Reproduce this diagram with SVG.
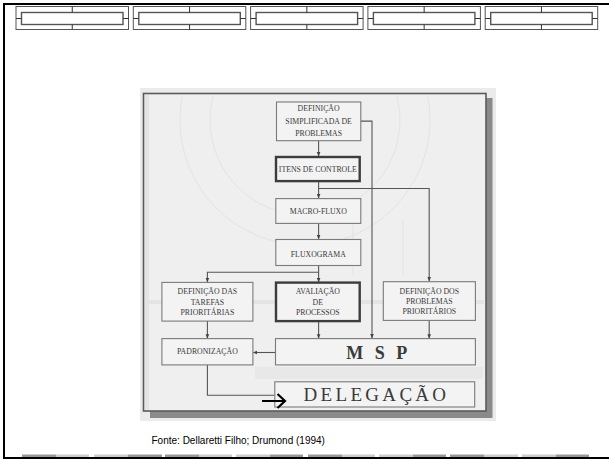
<svg xmlns="http://www.w3.org/2000/svg" width="609" height="459" viewBox="0 0 609 459">
<style>
.slide{stroke:#000;stroke-width:2;fill:none}
.tb-o{fill:#fff;stroke:#555;stroke-width:1}
.tb-i{fill:#fff;stroke:#555;stroke-width:1.4}
.tb-t{stroke:#333;stroke-width:1}
.box{fill:#f3f3f3;stroke:#7a7a7a;stroke-width:1.1}
.thick{fill:#f3f3f3;stroke:#3c3c3c;stroke-width:2.4}
.t{font-family:"Liberation Serif",serif;font-size:7.8px;fill:#3a3a3a;text-anchor:middle}
.big{font-family:"Liberation Serif",serif;fill:#3a3a3a;text-anchor:middle}
.c{fill:none;stroke:#555;stroke-width:1.1}
.cap{font-family:"Liberation Sans",Arial,sans-serif;font-size:10px;fill:#000}
</style>
<defs>
<marker id="ah" viewBox="0 0 10 10" refX="9" refY="5" markerWidth="4.5" markerHeight="4.5" orient="auto" markerUnits="userSpaceOnUse">
<path d="M0,1 L10,5 L0,9 z" fill="#444"/>
</marker>
<clipPath id="fr"><rect x="144.5" y="94.5" width="340.5" height="315.5"/></clipPath>
<g id="tab">
<rect class="tb-o" x="0" y="6.5" width="112.5" height="23"/>
<rect class="tb-i" x="5.5" y="12.5" width="101.5" height="12"/>
<path class="tb-t" d="M0,18.5 H5.5 M107,18.5 H112.5 M56.25,6.5 V12.5 M56.25,24.5 V29.5"/>
</g>
</defs>
<rect x="0" y="0" width="609" height="459" fill="#fff"/>
<path class="slide" d="M609,4 H4 V458 H609"/>
<g id="tabs">
<use href="#tab" x="16"/>
<use href="#tab" x="133.3"/>
<use href="#tab" x="250.6"/>
<use href="#tab" x="367.9"/>
<use href="#tab" x="485.2"/>
</g>
<g id="bars">
<rect x="22" y="454.5" width="34" height="2.5" fill="#999"/><rect x="56" y="454.5" width="33" height="2.5" fill="#ccc"/>
<rect x="94" y="454.5" width="34" height="2.5" fill="#ccc"/><rect x="128" y="454.5" width="34" height="2.5" fill="#999"/>
<rect x="165" y="454.5" width="34" height="2.5" fill="#999"/><rect x="199" y="454.5" width="33" height="2.5" fill="#ccc"/>
<rect x="236" y="454.5" width="34" height="2.5" fill="#ccc"/><rect x="270" y="454.5" width="33" height="2.5" fill="#999"/>
<rect x="308" y="454.5" width="34" height="2.5" fill="#999"/><rect x="342" y="454.5" width="33" height="2.5" fill="#ccc"/>
<rect x="379" y="454.5" width="34" height="2.5" fill="#ccc"/><rect x="413" y="454.5" width="33" height="2.5" fill="#999"/>
<rect x="450" y="454.5" width="34" height="2.5" fill="#999"/><rect x="484" y="454.5" width="34" height="2.5" fill="#ccc"/>
<rect x="522" y="454.5" width="34" height="2.5" fill="#ccc"/><rect x="556" y="454.5" width="33" height="2.5" fill="#999"/>
</g>
<g id="scan">
<rect x="140" y="88" width="356" height="333" fill="#ebebeb"/>
<rect x="150" y="98" width="342.5" height="320" fill="#8a8a8a"/>
<rect x="143.5" y="93.5" width="342.5" height="317.5" fill="#efefef" stroke="#5a5a5a" stroke-width="1.6"/>
<rect x="145" y="95" width="4" height="315" fill="#e4e4e4"/>
<g fill="none" stroke="#e0e0e0" stroke-width="0.8" clip-path="url(#fr)">
<circle cx="305" cy="120" r="125"/>
<circle cx="305" cy="120" r="95"/>
<path d="M353,220 V275 M403,220 V275"/>
</g>
<rect x="146" y="300" width="338" height="4" fill="#e4e4e4"/>
<rect x="255" y="367" width="228" height="12" fill="#e8e8e8"/>
</g>
<g id="connectors">
<path class="c" d="M318.6,140.7 V156" marker-end="url(#ah)"/>
<path class="c" d="M318.6,182 V198" marker-end="url(#ah)"/>
<path class="c" d="M318.6,188.5 H429.2 V281" marker-end="url(#ah)"/>
<path class="c" d="M360.8,121.1 H372 V338" marker-end="url(#ah)"/>
<path class="c" d="M318.6,223.4 V239" marker-end="url(#ah)"/>
<path class="c" d="M318.6,265.5 V282" marker-end="url(#ah)"/>
<path class="c" d="M318.6,272.2 H207.4 V282" marker-end="url(#ah)"/>
<path class="c" d="M207.4,321.1 V338.2" marker-end="url(#ah)"/>
<path class="c" d="M318.6,322 V338.2" marker-end="url(#ah)"/>
<path class="c" d="M429.2,320.4 V338.2" marker-end="url(#ah)"/>
<path class="c" d="M275.5,352.5 H253.3" marker-end="url(#ah)"/>
<path class="c" d="M207.4,364.9 V395.3 H274.8"/>
</g>
<g id="n-def-simpl">
<rect class="box" x="276.5" y="102" width="84.3" height="38.7"/>
<text class="t" x="318.6" y="111.3">DEFINIÇÃO</text>
<text class="t" x="318.6" y="123.8">SIMPLIFICADA DE</text>
<text class="t" x="318.6" y="136">PROBLEMAS</text>
</g>
<g id="n-itens">
<rect class="thick" x="276" y="157" width="83.7" height="24.1"/>
<text class="t" x="317.8" y="172">ITENS DE CONTROLE</text>
</g>
<g id="n-macro">
<rect class="box" x="275.8" y="198.6" width="85" height="24.8"/>
<text class="t" x="318.3" y="213.7">MACRO-FLUXO</text>
</g>
<g id="n-fluxo">
<rect class="box" x="275.8" y="239.5" width="85" height="26"/>
<text class="t" x="318.3" y="257">FLUXOGRAMA</text>
</g>
<g id="n-def-tarefas">
<rect class="box" x="161.9" y="282.4" width="91" height="38.7"/>
<text class="t" x="207.4" y="294.2">DEFINIÇÃO DAS</text>
<text class="t" x="207.4" y="304.6">TAREFAS</text>
<text class="t" x="207.4" y="315.4">PRIORITÁRIAS</text>
</g>
<g id="n-avaliacao">
<rect class="thick" x="276" y="282.6" width="83.7" height="38.5"/>
<text class="t" x="317.8" y="294.2">AVALIAÇÃO</text>
<text class="t" x="317.8" y="304.6">DE</text>
<text class="t" x="317.8" y="315.4">PROCESSOS</text>
</g>
<g id="n-def-problemas">
<rect class="box" x="383.3" y="281.7" width="92.1" height="38.7"/>
<text class="t" x="429.3" y="293.5">DEFINIÇÃO DOS</text>
<text class="t" x="429.3" y="304.3">PROBLEMAS</text>
<text class="t" x="429.3" y="314.4">PRIORITÁRIOS</text>
</g>
<g id="n-padronizacao">
<rect class="box" x="161.9" y="338.6" width="91" height="26.3"/>
<text class="t" x="207.4" y="354.2">PADRONIZAÇÃO</text>
</g>
<g id="n-msp">
<rect class="box" x="275.5" y="338.6" width="199.9" height="26.3"/>
<text class="big" x="378.5" y="358.5" font-size="18" font-weight="bold" letter-spacing="3.5">M S P</text>
</g>
<g id="n-delegacao">
<rect class="box" x="274.8" y="381.8" width="199.9" height="25.2"/>
<text class="big" x="376.5" y="401" font-size="19" letter-spacing="3.3">DELEGAÇÃO</text>
</g>
<g id="bold-arrow">
<path d="M262,401 H284.5 M277.5,394 L285,401 L277.5,408" fill="none" stroke="#000" stroke-width="2.2"/>
</g>
<text class="cap" x="151.5" y="443.5">Fonte: Dellaretti Filho; Drumond (1994)</text>
</svg>
